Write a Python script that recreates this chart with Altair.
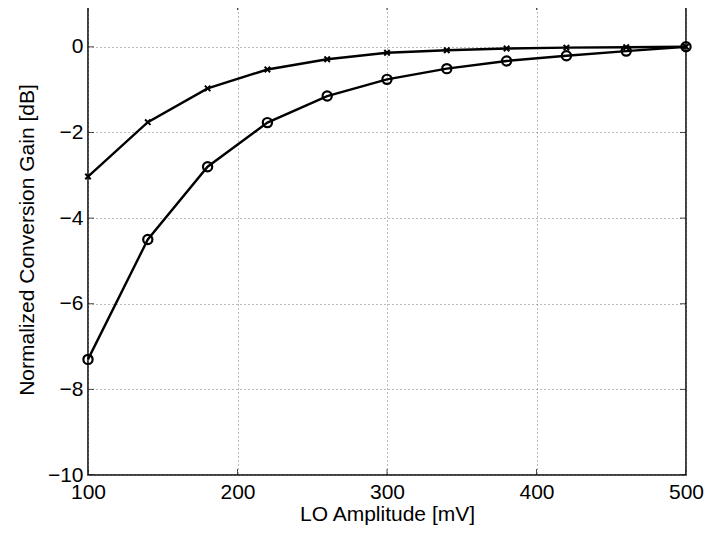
import altair as alt
import pandas as pd

lo_amplitude = [100, 140, 180, 220, 260, 300, 340, 380, 420, 460, 500]
gain_cross = [-3.03, -1.76, -0.97, -0.53, -0.29, -0.14, -0.08, -0.04, -0.02, -0.01, 0.0]
gain_circle = [-7.3, -4.5, -2.8, -1.77, -1.15, -0.76, -0.51, -0.33, -0.21, -0.10, 0.0]
x_ticks = [100, 200, 300, 400, 500]
y_ticks = [0, -2, -4, -6, -8, -10]

df = pd.DataFrame({
    "lo": lo_amplitude * 2,
    "gain": gain_cross + gain_circle,
    "series": ["cross"] * len(lo_amplitude) + ["circle"] * len(lo_amplitude),
})

FONT = "Liberation Sans"
FS = 21
W, H = 598, 471

xs = alt.Scale(domain=[100, 500], nice=False, zero=False)
ys = alt.Scale(domain=[-10, 1], nice=False, zero=False)

base = alt.Chart(df)

lines = base.mark_line(color="black", strokeWidth=2.4).encode(
    x=alt.X("lo:Q", scale=xs, axis=alt.Axis(
        title="LO Amplitude [mV]", values=x_ticks, grid=True, gridColor="#777",
        gridDash=[1, 3], gridWidth=1, domain=False, ticks=False, labelFlush=False,
        labelPadding=6, labelFontSize=FS, titleFontSize=FS, labelFont=FONT, titleFont=FONT,
        titleFontWeight="normal", titlePadding=1, labelColor="black", titleColor="black")),
    y=alt.Y("gain:Q", scale=ys, axis=alt.Axis(
        title="Normalized Conversion Gain [dB]", values=y_ticks, grid=True, gridColor="#777",
        gridDash=[1, 3], gridWidth=1, domain=False, ticks=False, labelPadding=5,
        labelFontSize=FS, titleFontSize=FS, labelFont=FONT, titleFont=FONT,
        titleFontWeight="normal", titlePadding=10, labelColor="black", titleColor="black")),
    detail="series:N",
)

circles = base.transform_filter(alt.datum.series == "circle").mark_point(
    shape="circle", filled=False, color="black", size=85, strokeWidth=2.2, opacity=1
).encode(x=alt.X("lo:Q", scale=xs), y=alt.Y("gain:Q", scale=ys))

crosses = base.transform_filter(alt.datum.series == "cross").mark_point(
    shape="M-1,-1L1,1M-1,1L1,-1", filled=False, color="black", size=30, strokeWidth=2, opacity=1
).encode(x=alt.X("lo:Q", scale=xs), y=alt.Y("gain:Q", scale=ys))

xt = pd.DataFrame({"v": x_ticks})
yt = pd.DataFrame({"v": y_ticks})
tick_top = alt.Chart(xt).mark_tick(orient="vertical", size=12, color="black", thickness=1, clip=True).encode(
    x=alt.X("v:Q", scale=xs), y=alt.value(0))
tick_bot = alt.Chart(xt).mark_tick(orient="vertical", size=12, color="black", thickness=1, clip=True).encode(
    x=alt.X("v:Q", scale=xs), y=alt.value(H))
tick_l = alt.Chart(yt).mark_tick(orient="horizontal", size=12, color="black", thickness=1, clip=True).encode(
    y=alt.Y("v:Q", scale=ys), x=alt.value(0))
tick_r = alt.Chart(yt).mark_tick(orient="horizontal", size=12, color="black", thickness=1, clip=True).encode(
    y=alt.Y("v:Q", scale=ys), x=alt.value(W))

chart = alt.layer(lines, tick_top, tick_bot, tick_l, tick_r, circles, crosses).properties(
    width=W, height=H,
    autosize=alt.AutoSizeParams(type="none"),
    padding={"left": 80, "top": -4, "right": 20, "bottom": 60},
    background="white",
).configure_view(stroke="black", strokeWidth=1.5)

chart.save("out.html", embed_options={"renderer": "svg", "actions": False})
